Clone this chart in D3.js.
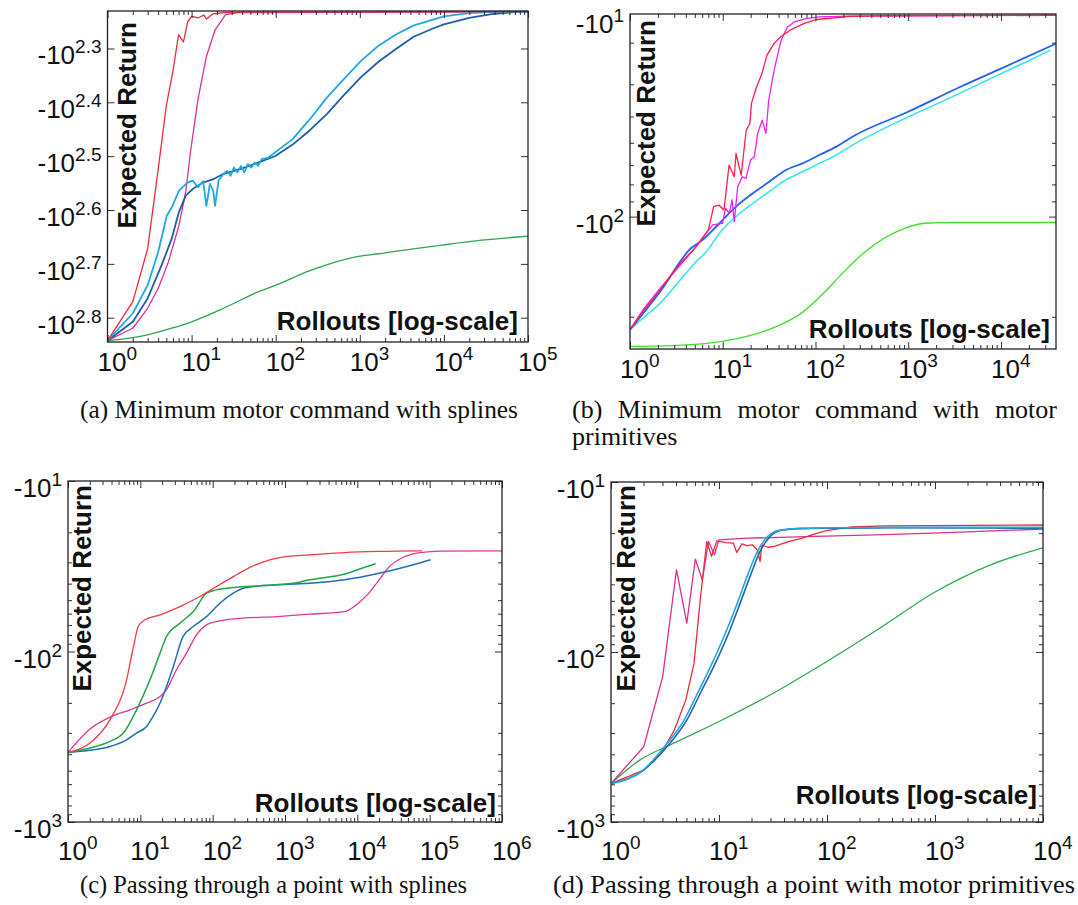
<!DOCTYPE html>
<html><head><meta charset="utf-8">
<script src="https://cdn.jsdelivr.net/npm/d3@7/dist/d3.min.js"></script>
<style>body{margin:0;background:#fff}</style>
</head><body>
<script>
// ---------------- DATA (rollouts, expected return) ----------------
// (a) Minimum motor command with splines
const aRed = [[1,-696],[2,-589],[3,-470],[4,-335],[5,-255],[6,-220],[7,-188],[8,-194],[9,-178],[10,-174],[12,-175],[14,-173],[15,-176],[18,-172],[25,-171.2],[40,-170.8],[1e5,-170.5]];
const aMagenta = [[1,-696],[2,-660],[3,-606],[4,-557],[5.3,-497],[7.05,-426],[8.5,-369],[9.8,-307],[11.9,-248],[15,-206.5],[19,-184.4],[25.2,-172.9],[35.1,-171.2],[1e5,-170.5]];
const aLightBlue = [[1,-696],[2,-619],[3,-549],[4,-477],[5.07,-408],[5.8,-394],[7.05,-367],[8.9,-354],[10.3,-351],[11.9,-361],[13.7,-352],[15,-391],[16.5,-356],[18.1,-367],[19,-391],[20.9,-351],[24,-341],[26.4,-336.7],[29,-344],[31.9,-332],[35.1,-339],[38.6,-329.6],[42.4,-339],[46.6,-327.3],[51.2,-332],[56.2,-325],[61.8,-329.6],[67.9,-320.4],[82,-318.1],[99,-311],[159,-294],[255,-270],[408,-246],[654,-227],[1048,-210],[1680,-197],[2692,-188],[4317,-181],[6920,-177],[10000,-174],[20000,-171.5],[40000,-170.6],[1e5,-170.5]];
const aDarkBlue = [[1,-696],[2,-642],[3,-581],[4.4,-504],[5.8,-450],[7.05,-402],[8.5,-374.5],[10.3,-364],[13.7,-354],[18.1,-349],[24,-341],[38.6,-334],[61.8,-325],[99,-316],[159,-301],[255,-283],[408,-264],[654,-243],[1048,-225],[1680,-211],[2692,-200],[4317,-190],[6920,-184],[10000,-180],[20000,-175],[40000,-172],[80000,-170.6],[1e5,-170.5]];
const aGreen = [[1,-696],[3,-679],[5.8,-660],[10,-642],[24,-606],[61.8,-565],[100,-549],[255,-516],[654,-492],[1000,-485],[1680,-480],[4317,-470],[10000,-462],[28500,-453],[1e5,-445]];

// (b) Minimum motor command with motor primitives
const bRed = [[1,-218.8],[1.38,-192.8],[2.12,-166],[3.25,-141],[4.99,-124.5],[7.0,-109.6],[7.97,-93.3],[9.06,-92.3],[10.3,-95.5],[11.7,-70],[13.3,-75.9],[13.9,-64.6],[15.8,-75],[17.9,-55],[19.6,-52.5],[20.4,-45.7],[22.8,-41.2],[26.4,-37.2],[30,-32.7],[35.6,-30.2],[42.2,-28.8],[54.5,-27.4],[76.7,-26.2],[99,-25.6],[233,-25.0],[547,-24.9],[39200,-24.8]];
const bMagenta = [[1,-218.8],[1.38,-190.5],[2.12,-164],[3.25,-143],[4.99,-124.5],[6.44,-113.5],[7.78,-105.9],[9.96,-104.7],[10.7,-94.4],[11.8,-97.7],[12.6,-89.1],[13.3,-103.5],[14.5,-81.3],[16.2,-75.9],[17.8,-76.7],[19.9,-67.6],[21.9,-66.1],[23.8,-56.2],[26.6,-51.3],[29.2,-56.2],[31.3,-44.7],[34.7,-38],[36.8,-35.1],[40.1,-31.6],[42.6,-29.5],[45.9,-28.2],[50,-26.9],[58.9,-26],[78.7,-25.4],[110,-25.1],[233,-24.95],[39200,-24.83]];
const bBlue = [[1,-218.8],[2.12,-167.9],[4.54,-124.5],[6.07,-117.5],[9.22,-104.7],[13.9,-93.3],[21.1,-85.1],[31.8,-78.5],[48,-72.4],[72.3,-69.2],[110,-65.3],[166,-61.7],[250,-57.5],[996,-48.4],[3520,-40.9],[10000,-35.9],[39200,-30.2]];
const bCyan = [[1,-218.8],[1.38,-201.8],[2.12,-182],[3.25,-158.5],[4.99,-138],[6.9,-125.9],[9.22,-112.2],[13.9,-100],[21.1,-91.2],[31.8,-84.1],[48,-77.6],[72.3,-73.3],[110,-69.2],[166,-65.3],[250,-61],[3520,-42.7],[34200,-31.6]];
const bGreen = [[1,-245.5],[3.25,-243.8],[9.87,-237.1],[21.3,-226.5],[42.2,-211.3],[70.5,-195],[117.6,-171.8],[196,-147.9],[328,-128.8],[547,-116.1],[914,-108.4],[1527,-104.7],[3020,-104],[39200,-104]];

// (c) Passing through a point with splines
const cRed = [[1,-390.8],[2.02,-344],[3.81,-251],[6.45,-146.6],[8.03,-93.5],[9.36,-71.4],[11.6,-65.2],[18.7,-61],[35.3,-54.5],[66.7,-47.6],[113,-41.6],[193,-36.4],[327,-32.1],[617,-29],[1300,-27.5],[2200,-27.1],[6660,-26.3],[20000,-25.9],[78500,-25.7]];
const cGreen = [[1,-390.8],[2.02,-368],[3.81,-336.5],[5.83,-301],[8.87,-219.8],[13.6,-146.6],[18.7,-102.3],[23,-81.7],[35.3,-68.2],[54.1,-58.3],[82.1,-45.5],[113,-43.5],[213,-42],[449,-41.2],[1300,-39.8],[2200,-38],[6660,-35.1],[11500,-32.5],[17900,-30.6]];
const cBlue = [[1,-390.8],[2.02,-380],[3.81,-360.5],[6.45,-329.6],[8.87,-301],[12.2,-275],[15,-240.4],[18.7,-201],[23,-160.4],[28.6,-122.5],[38.9,-81.7],[54.1,-71.4],[82.1,-62.4],[126,-52.1],[193,-45.5],[265,-42.6],[449,-41.2],[1300,-40.2],[2200,-39.8],[6660,-38],[20000,-34.8],[59700,-31],[103000,-29]];
const cMagenta = [[1,-390.8],[2.02,-285],[3.81,-242.7],[7.2,-219.8],[12.2,-201],[18.7,-183.7],[23,-167.9],[31.6,-128],[43.5,-102.3],[59.7,-79.8],[82.1,-69.8],[113,-66.7],[265,-63.8],[769,-62.4],[2200,-60.4],[6660,-58.3],[10300,-52.1],[14400,-45.5],[20000,-38],[27700,-31.8],[43000,-28],[74400,-26.3],[143600,-25.8],[1e6,-25.7]];

// (d) Passing through a point with motor primitives
const dMagenta = [[1,-594],[2.01,-361],[3.01,-139.6],[4.04,-32.9],[5.03,-67.7],[6.04,-28.4],[7.0,-37.7],[8.0,-22.4],[9.06,-26.8],[9.96,-21.9],[18.2,-21.4],[79,-20.9],[343,-20.4],[1490,-19.8],[10000,-18.9]];
const dRed = [[1,-594],[2.01,-495],[2.9,-395],[3.86,-288],[4.92,-191.9],[5.87,-116.7],[6.75,-47.2],[7.7,-22.4],[8.54,-27.4],[9.53,-22.2],[11.7,-22.7],[13.6,-22.9],[14.6,-26],[16.3,-23.1],[18.2,-23.7],[20.3,-23.4],[22.7,-25.1],[24,-29.4],[24.9,-23.4],[28.3,-24.2],[32.7,-23.9],[37.9,-23.1],[44,-22.4],[50.9,-21.9],[58.9,-21.4],[73.5,-20.4],[98.6,-19.3],[165,-18.4],[343,-18.1],[10000,-17.9]];
const dBlue = [[1,-594],[2.01,-495],[3.29,-361],[5.03,-251.8],[6.7,-175.4],[8.93,-121.9],[11.9,-81.3],[15.7,-51.6],[19.4,-35.9],[24,-25.6],[29.8,-20.9],[36.8,-19.3],[56.4,-18.8],[115,-18.7],[343,-18.6],[10000,-18.7]];
const dLightBlue = [[1,-594],[2.01,-492],[3.12,-361],[4.75,-251.8],[6.31,-175.4],[8.35,-121.9],[11.1,-81.3],[14.8,-51.6],[18.2,-35.9],[22.7,-25.6],[28.3,-20.9],[35.2,-19.3],[56.4,-18.7],[115,-18.6],[343,-18.5],[10000,-18.5]];
const dGreen = [[1,-594],[1.86,-431],[3.52,-352],[6,-300],[9.8,-258],[29.7,-179],[98,-114.5],[310,-72.3],[1000,-44.4],[3230,-30.8],[10000,-24.4]];

// tick labels
const aYTickExps = ["2.3","2.4","2.5","2.6","2.7","2.8"];
const aXTickExps = [0,1,2,3,4,5];
const bXTickExps = [0,1,2,3,4];
const cXTickExps = [0,1,2,3,4,5,6];
const dXTickExps = [0,1,2,3,4];
const bYTickLabels = [[-25.2,"1"],[-100,"2"]];
const cdYTickExps = [1,2,3];

const captionA = "(a) Minimum motor command with splines";
const captionB1 = ["(b)","Minimum","motor","command","with","motor"];
const captionB2 = "primitives";
const captionC = "(c) Passing through a point with splines";
const captionD = "(d) Passing through a point with motor primitives";

// ---------------- DRAWING ----------------
const svg = d3.select("body").append("svg").attr("width",1078).attr("height",905);
const SANS = "'Liberation Sans', Arial, Helvetica, sans-serif";
const SERIF = "'Liberation Serif', 'Times New Roman', serif";
let clipId = 0;

function minorVals(dom){
  const lo = Math.min(Math.abs(dom[0]),Math.abs(dom[1])), hi = Math.max(Math.abs(dom[0]),Math.abs(dom[1]));
  const sgn = dom[0] < 0 ? -1 : 1, out=[];
  for(let k=Math.floor(Math.log10(lo))-1;k<=Math.ceil(Math.log10(hi));k++)
    for(let m=2;m<=9;m++){const v=m*Math.pow(10,k); if(v>=lo*0.9999&&v<=hi*1.0001) out.push(sgn*v);}
  return out;
}

function powText(g, x, y, base, exp, anchor){
  const t = g.append("text").attr("x",x).attr("y",y).attr("text-anchor",anchor)
    .attr("font-family",SANS).attr("font-size",26).attr("fill","#111");
  t.append("tspan").text(base);
  t.append("tspan").attr("dy",-11).attr("font-size",19).text(exp);
  return t;
}

function panel(p){
  const x = d3.scaleLog().domain(p.xDom).range([p.x0,p.x1]);
  const y = d3.scaleLog().domain(p.yDom).range([p.y0,p.y1]);
  const g = svg.append("g");
  const id = "clip"+(clipId++);
  g.append("clipPath").attr("id",id).append("rect")
    .attr("x",p.x0).attr("y",p.y0-1).attr("width",p.x1-p.x0).attr("height",p.y1-p.y0+2);
  const lg = g.append("g").attr("clip-path",`url(#${id})`);
  p.series.forEach(s=>{
    const line = d3.line().x(d=>x(d[0])).y(d=>y(d[1]))
      .curve(s.smooth ? d3.curveMonotoneX : d3.curveLinear);
    lg.append("path").datum(s.data).attr("d",line).attr("fill","none")
      .attr("stroke",s.color).attr("stroke-width",s.w||1.3).attr("stroke-linejoin","round");
  });
  // axes (inward ticks on all four sides)
  const xMaj = p.xExps.map(e=>Math.pow(10,e));
  const xMin = minorVals(p.xDom);
  const axes = [
    [d3.axisBottom(x),`translate(0,${p.y1})`,xMaj,7],[d3.axisBottom(x),`translate(0,${p.y1})`,xMin,4],
    [d3.axisTop(x),`translate(0,${p.y0})`,xMaj,7],[d3.axisTop(x),`translate(0,${p.y0})`,xMin,4],
    [d3.axisLeft(y),`translate(${p.x0},0)`,p.yMaj,7],[d3.axisLeft(y),`translate(${p.x0},0)`,p.yMin,4],
    [d3.axisRight(y),`translate(${p.x1},0)`,p.yMaj,7],[d3.axisRight(y),`translate(${p.x1},0)`,p.yMin,4]
  ];
  axes.forEach(([ax,tr,vals,len])=>{
    const a = g.append("g").attr("transform",tr)
      .call(ax.tickValues(vals).tickSize(-len).tickFormat(""));
    a.select(".domain").remove();
    a.selectAll("line").attr("stroke","#333").attr("stroke-width",1);
  });
  g.append("rect").attr("x",p.x0).attr("y",p.y0).attr("width",p.x1-p.x0).attr("height",p.y1-p.y0)
    .attr("fill","none").attr("stroke","#222").attr("stroke-width",1.3);
  // x labels
  p.xExps.forEach(e=>powText(g, x(Math.pow(10,e))-10, p.y1+p.xlOff, "10", String(e), "start"));
  // y labels
  p.yLabels.forEach(([v,e])=>powText(g, p.x0-6, y(v)+16, "-10", e, "end"));
  // axis titles
  g.append("text").attr("transform",`translate(${p.erX},${p.erY}) rotate(-90)`)
    .attr("text-anchor","end").attr("font-family",SANS).attr("font-weight","bold")
    .attr("font-size",26).attr("fill","#111").text("Expected Return");
  g.append("text").attr("x",p.roX).attr("y",p.roY).attr("text-anchor","end")
    .attr("font-family",SANS).attr("font-weight","bold").attr("font-size",26).attr("fill","#111")
    .text("Rollouts [log-scale]");
}

const pow10 = e=>-Math.pow(10,+e);

panel({x0:107.5,x1:528,y0:11,y1:342,xDom:[1,1e5],yDom:[-170,-700],xExps:aXTickExps,xlOff:29,
  yMaj:aYTickExps.map(pow10),yMin:[],yLabels:aYTickExps.map(e=>[pow10(e),e]),
  erX:136,erY:22,roX:518,roY:330,
  series:[{data:aGreen,color:"#2aa84a",smooth:true},{data:aMagenta,color:"#d8338e"},{data:aDarkBlue,color:"#1d5ea8",w:1.8},
          {data:aLightBlue,color:"#1fa9e1",w:1.8},{data:aRed,color:"#ee2b3b"}]});

panel({x0:630,x1:1056,y0:14,y1:349,xDom:[1,39200],yDom:[-24.6,-250],xExps:bXTickExps,xlOff:29,
  yMaj:[-100],yMin:[-30,-40,-50,-60,-70,-80,-90,-200],yLabels:bYTickLabels,
  erX:655,erY:20,roX:1050,roY:338,
  series:[{data:bGreen,color:"#3ee02a",smooth:true},{data:bCyan,color:"#2ee6ee",w:1.5,smooth:true},{data:bBlue,color:"#2262f0",w:1.8,smooth:true},
          {data:bMagenta,color:"#f020f0"},{data:bRed,color:"#f8204c"}]});

panel({x0:68,x1:502,y0:481,y1:822,xDom:[1,1e6],yDom:[-10,-1000],xExps:cXTickExps,xlOff:38,
  yMaj:[-10,-100,-1000],yMin:minorVals([-10,-1000]),yLabels:cdYTickExps.map(e=>[pow10(e),String(e)]),
  erX:91,erY:485,roX:496,roY:812,
  series:[{data:cMagenta,color:"#e0359a",smooth:true},{data:cBlue,color:"#1f6db6",w:1.5,smooth:true},{data:cGreen,color:"#1fa64a",w:1.5,smooth:true},
          {data:cRed,color:"#ef3b44",smooth:true}]});

panel({x0:611,x1:1043,y0:482,y1:822,xDom:[1,1e4],yDom:[-10,-1000],xExps:dXTickExps,xlOff:38,
  yMaj:[-10,-100,-1000],yMin:minorVals([-10,-1000]),yLabels:cdYTickExps.map(e=>[pow10(e),String(e)]),
  erX:635,erY:485,roX:1037,roY:804,
  series:[{data:dGreen,color:"#2eaa4f",smooth:true},{data:dMagenta,color:"#dc2f8e"},{data:dRed,color:"#ee2b3b"},
          {data:dBlue,color:"#2563ad",w:1.6,smooth:true},{data:dLightBlue,color:"#23a8e0",w:1.6,smooth:true}]});

// captions
function caption(txt,x,y,len){
  svg.append("text").attr("x",x).attr("y",y).attr("font-family",SERIF).attr("font-size",26)
    .attr("fill","#111").attr("textLength",len).attr("lengthAdjust","spacingAndGlyphs").text(txt);
}
caption(captionA,80,418,438);
caption(captionC,80,893,387);
caption(captionD,553,893,522);
// justified caption (b)
(function(){
  const x0=572,x1=1057,y=418;
  const nodes = captionB1.map(w=>svg.append("text").attr("y",y).attr("font-family",SERIF)
    .attr("font-size",26).attr("fill","#111").text(w));
  const widths = nodes.map(n=>n.node().getComputedTextLength());
  const gap = (x1-x0-d3.sum(widths))/(nodes.length-1);
  let cx = x0;
  nodes.forEach((n,i)=>{n.attr("x",cx); cx += widths[i]+gap;});
  svg.append("text").attr("x",x0).attr("y",y+27).attr("font-family",SERIF).attr("font-size",26)
    .attr("fill","#111").text(captionB2);
})();
</script>
</body></html>
